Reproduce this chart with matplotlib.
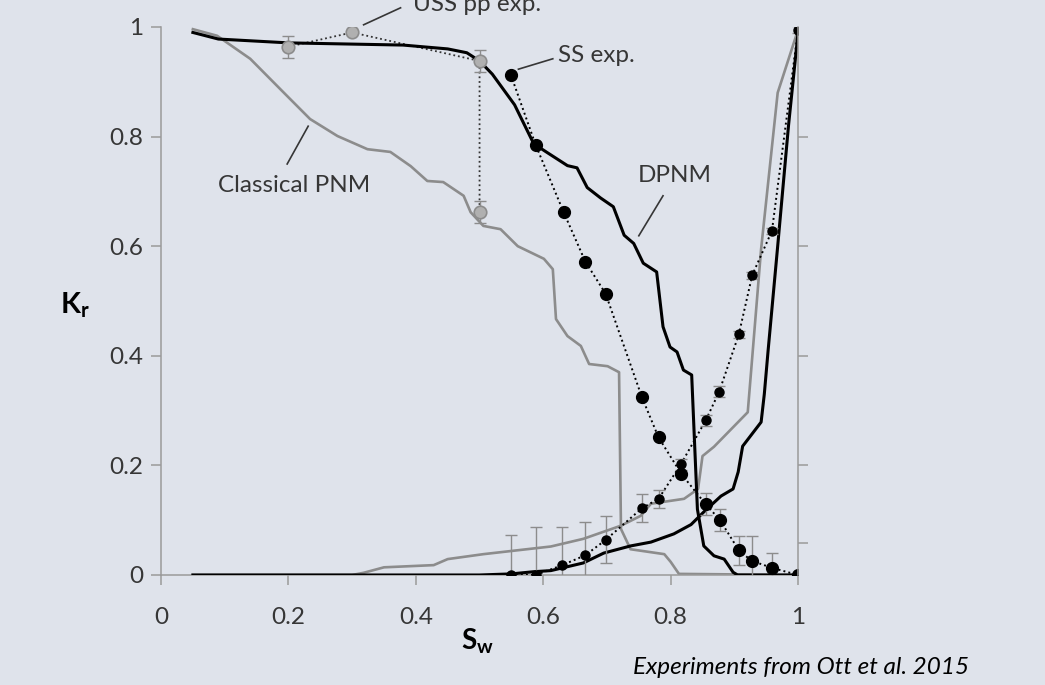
import matplotlib
matplotlib.use("Agg")
import matplotlib.pyplot as plt

# ---- data ----
# DPNM drainage (black, solid)
dpnm_dr_sw = [0.05, 0.09, 0.20, 0.38, 0.45, 0.48, 0.50, 0.52, 0.555, 0.585, 0.606, 0.638,
              0.653, 0.669, 0.69, 0.71, 0.727, 0.742, 0.757, 0.778, 0.788, 0.799, 0.81,
              0.82, 0.833, 0.838, 0.842, 0.852, 0.868, 0.884, 0.898, 0.905, 1.0]
dpnm_dr_kr = [0.99, 0.978, 0.971, 0.967, 0.96, 0.953, 0.938, 0.914, 0.858, 0.787, 0.771, 0.747,
              0.743, 0.707, 0.688, 0.672, 0.62, 0.605, 0.569, 0.553, 0.453, 0.416, 0.407,
              0.374, 0.365, 0.228, 0.12, 0.053, 0.035, 0.029, 0.005, 0.0, 0.0]

# DPNM imbibition (black, solid)
dpnm_im_sw = [0.05, 0.5, 0.55, 0.585, 0.612, 0.663, 0.695, 0.737, 0.769, 0.805, 0.832, 0.852,
              0.879, 0.898, 0.906, 0.913, 0.942, 0.947, 0.953, 0.968, 0.985, 1.0]
dpnm_im_kr = [0.0, 0.0, 0.002, 0.006, 0.008, 0.022, 0.04, 0.053, 0.06, 0.075, 0.092, 0.115,
              0.144, 0.157, 0.188, 0.235, 0.279, 0.33, 0.41, 0.6, 0.82, 0.99]

# Classical PNM drainage (grey, solid)
cls_dr_sw = [0.05, 0.088, 0.14, 0.192, 0.234, 0.277, 0.324, 0.36, 0.392, 0.418, 0.443, 0.475,
             0.486, 0.506, 0.533, 0.56, 0.601, 0.615, 0.62, 0.638, 0.659, 0.672, 0.701, 0.719,
             0.722, 0.737, 0.79, 0.80, 0.813, 1.0]
cls_dr_kr = [0.996, 0.984, 0.942, 0.881, 0.832, 0.801, 0.777, 0.772, 0.746, 0.719, 0.717, 0.692,
             0.662, 0.637, 0.631, 0.60, 0.577, 0.558, 0.467, 0.436, 0.418, 0.385, 0.381, 0.37,
             0.084, 0.047, 0.038, 0.024, 0.002, 0.0]

# Classical PNM imbibition (grey, solid)
cls_im_sw = [0.05, 0.3, 0.318, 0.35, 0.428, 0.45, 0.506, 0.612, 0.663, 0.722, 0.753, 0.769,
             0.821, 0.843, 0.85, 0.868, 0.921, 0.942, 0.968, 1.0]
cls_im_kr = [0.0, 0.0, 0.004, 0.014, 0.018, 0.029, 0.038, 0.052, 0.066, 0.09, 0.108, 0.13,
             0.139, 0.157, 0.217, 0.234, 0.297, 0.595, 0.88, 0.995]

# SS experiments, drainage (large black dots)
ss_dr_sw = [0.549, 0.588, 0.632, 0.666, 0.698, 0.755, 0.781, 0.817, 0.855, 0.877, 0.907, 0.927, 0.959, 1.0]
ss_dr_kr = [0.913, 0.785, 0.662, 0.572, 0.513, 0.324, 0.251, 0.184, 0.129, 0.101, 0.045, 0.026, 0.013, 0.0]
ss_dr_err = [0, 0, 0, 0, 0, 0, 0, 0, 0.02, 0.02, 0.026, 0.045, 0.027, 0]

# SS experiments, imbibition (small black dots)
ss_im_sw = [0.549, 0.588, 0.63, 0.666, 0.698, 0.755, 0.781, 0.816, 0.855, 0.876, 0.907, 0.928, 0.959, 1.0]
ss_im_kr = [0.0, 0.0, 0.018, 0.036, 0.064, 0.122, 0.139, 0.202, 0.282, 0.334, 0.439, 0.547, 0.628, 0.995]
ss_im_err = [0.073, 0.087, 0.07, 0.06, 0.043, 0.026, 0.016, 0.01, 0.01, 0.01, 0.006, 0.006, 0.006, 0.006]

# USS pp experiments (grey dots)
uss_sw = [0.2, 0.3, 0.5, 0.5]
uss_kr = [0.964, 0.99, 0.938, 0.662]
uss_err = [0.02, 0, 0.02, 0.02]

xticks = [0, 0.2, 0.4, 0.6, 0.8, 1]
xtick_labels = ["0", "0.2", "0.4", "0.6", "0.8", "1"]
yticks = [0, 0.2, 0.4, 0.6, 0.8, 1]
ytick_labels = ["0", "0.2", "0.4", "0.6", "0.8", "1"]
right_ticks = [0.058, 0.2, 0.4, 0.6, 0.8]

# ---- style ----
bg = "#dfe3eb"
grey = "#8c8c8c"
spine = "#9a9a9a"
txt = "#363636"

plt.rcParams["font.family"] = ["Lato", "DejaVu Sans"]
plt.rcParams["mathtext.fontset"] = "custom"
plt.rcParams["mathtext.rm"] = "Lato"
plt.rcParams["mathtext.bf"] = "Lato:bold"

fig = plt.figure(figsize=(10.45, 6.85), dpi=100, facecolor=bg)
ax = fig.add_axes([0.1541, 0.1606, 0.6096, 0.800])
ax.set_facecolor(bg)

# simulated curves
ax.plot(cls_dr_sw, cls_dr_kr, color=grey, lw=1.9, zorder=2, solid_joinstyle="round")
ax.plot(cls_im_sw, cls_im_kr, color=grey, lw=1.9, zorder=2, solid_joinstyle="round")
ax.plot(dpnm_dr_sw, dpnm_dr_kr, color="black", lw=2.2, zorder=3, solid_joinstyle="round")
ax.plot(dpnm_im_sw, dpnm_im_kr, color="black", lw=2.2, zorder=3, solid_joinstyle="round")

# USS pp experiments
ax.plot(uss_sw, uss_kr, color="#333333", lw=1.3, ls=(0, (1, 1.6)), zorder=2.5)
ax.errorbar(uss_sw, uss_kr, yerr=uss_err, fmt="none", ecolor=grey, elinewidth=1,
            capsize=4, capthick=1, zorder=2.6)
ax.plot(uss_sw, uss_kr, ls="none", marker="o", ms=9, mfc="#b0b0b0", mec=grey, mew=1.2, zorder=4)

# SS experiments
ax.plot(ss_dr_sw, ss_dr_kr, color="black", lw=1.4, ls=(0, (1, 1.6)), zorder=3.5)
ax.plot(ss_im_sw, ss_im_kr, color="black", lw=1.4, ls=(0, (1, 1.6)), zorder=3.5)
ax.errorbar(ss_im_sw, ss_im_kr, yerr=ss_im_err, fmt="none", ecolor=grey, elinewidth=1,
            capsize=4, capthick=1, zorder=3.6)
ax.errorbar(ss_dr_sw, ss_dr_kr, yerr=ss_dr_err, fmt="none", ecolor=grey, elinewidth=1,
            capsize=4, capthick=1, zorder=3.6)
ax.plot(ss_im_sw, ss_im_kr, ls="none", marker="o", ms=6.5, color="black", zorder=4)
ax.plot(ss_dr_sw, ss_dr_kr, ls="none", marker="o", ms=8.5, color="black", zorder=4)

# axes
ax.set_xlim(0, 1)
ax.set_ylim(0, 1)
ax.set_xticks(xticks)
ax.set_xticklabels(xtick_labels)
ax.set_yticks(yticks)
ax.set_yticklabels(ytick_labels)
ax.tick_params(axis="both", direction="out", length=7, width=1.1, color=spine,
               labelsize=17.5, labelcolor=txt)
ax.tick_params(axis="x", pad=16)
ax.tick_params(axis="y", pad=6)
for side in ["left", "bottom"]:
    ax.spines[side].set_color(spine)
    ax.spines[side].set_linewidth(1.1)
ax.spines["top"].set_visible(False)
ax.spines["right"].set_visible(False)

ax2 = ax.twinx()
ax2.set_ylim(0, 1)
ax2.set_yticks(right_ticks)
ax2.set_yticklabels([])
ax2.tick_params(axis="y", direction="out", length=7, width=1.1, color=spine)
for side in ["left", "bottom", "top"]:
    ax2.spines[side].set_visible(False)
ax2.spines["right"].set_color(spine)
ax2.spines["right"].set_linewidth(1.1)

# annotations (the USS label sits against the top edge, as in the source figure)
lab = dict(fontsize=17.5, color=txt, ha="left", va="baseline", clip_on=False)
ax.text(0.396, 1.029, "USS pp exp.", **lab)
ax.plot([0.318, 0.376], [1.004, 1.035], color=txt, lw=1.2, clip_on=False)
ax.text(0.623, 0.936, "SS exp.", **lab)
ax.plot([0.561, 0.615], [0.923, 0.942], color=txt, lw=1.2)
ax.text(0.0896, 0.699, "Classical PNM", **lab)
ax.plot([0.198, 0.231], [0.75, 0.819], color=txt, lw=1.2)
ax.text(0.748, 0.717, "DPNM", **lab)
ax.plot([0.75, 0.788], [0.619, 0.692], color=txt, lw=1.2)

# axis titles
fig.text(60 / 1045, 1 - 305 / 685, r"$\mathbf{K_r}$", fontsize=21, color="black",
         ha="left", va="center")
fig.text(461 / 1045, 1 - 641 / 685, r"$\mathbf{S_w}$", fontsize=20, color="black",
         ha="left", va="center")
fig.text(633 / 1045, 1 - 668 / 685, "Experiments from Ott et al. 2015", fontsize=17.5,
         style="italic", color="black", ha="left", va="center")

fig.savefig("out.png", dpi=100, facecolor=bg)
